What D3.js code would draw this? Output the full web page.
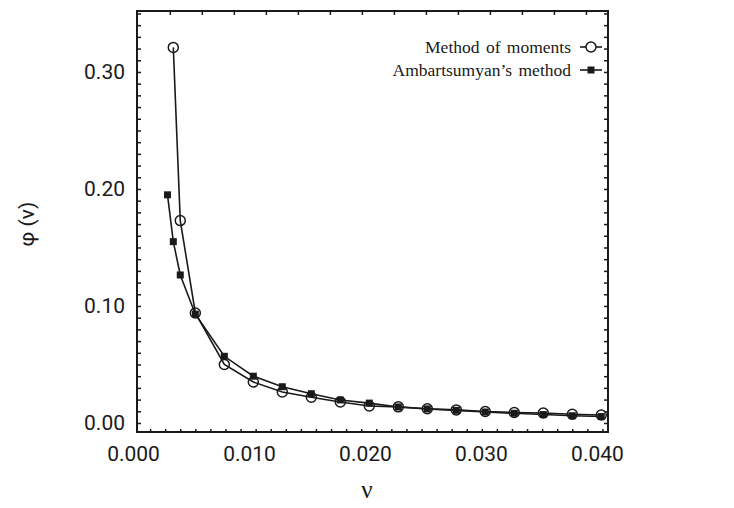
<!DOCTYPE html>
<html>
<head>
<meta charset="utf-8">
<script src="https://cdn.jsdelivr.net/npm/d3@7"></script>
<style>
  body { margin: 0; background: #fff; }
  svg { display: block; }
</style>
</head>
<body>
<div class="chart"></div>
<script>
// data
var momentsX = [0.0033, 0.0039, 0.0052, 0.0077, 0.0102, 0.0127, 0.0152, 0.0177, 0.0202, 0.0227, 0.0252, 0.0277, 0.0302, 0.0327, 0.0352, 0.0377, 0.0402];
var momentsY = [0.321, 0.173, 0.094, 0.050, 0.035, 0.0265, 0.022, 0.018, 0.0145, 0.0138, 0.0122, 0.0112, 0.0098, 0.0090, 0.0085, 0.0075, 0.0068];
var ambX = [0.0028, 0.0033, 0.0039, 0.0052, 0.0077, 0.0102, 0.0127, 0.0152, 0.0177, 0.0202, 0.0227, 0.0252, 0.0277, 0.0302, 0.0327, 0.0352, 0.0377, 0.0402];
var ambY = [0.195, 0.155, 0.1265, 0.093, 0.057, 0.040, 0.031, 0.025, 0.0197, 0.017, 0.0137, 0.012, 0.0108, 0.0094, 0.0083, 0.0072, 0.0062, 0.0055];
var xTicks = [0, 0.01, 0.02, 0.03, 0.04];
var yTicks = [0, 0.1, 0.2, 0.3];
var seriesNames = ["Method of moments", "Ambartsumyan\u2019s method"];

var margin = {top: 11, right: 126, bottom: 76, left: 137};
var W = 734, H = 508;
var width = W - margin.left - margin.right;
var height = H - margin.top - margin.bottom;

var x = d3.scaleLinear().domain([0.00017, 0.04078]).range([0, width]);
var y = d3.scaleLinear().domain([-0.0077, 0.3521]).range([height, 0]);

var svg = d3.select(".chart")
  .append("svg")
    .attr("width", W)
    .attr("height", H)
  .append("g")
    .attr("transform", "translate(" + margin.left + "," + margin.top + ")");

var ink = "#1a1a1a";
var numFont = "Roboto, 'Liberation Sans', sans-serif";
var serif = "'Liberation Serif', 'DejaVu Serif', serif";

// minor ticks (inward)
var leftMinor = d3.range(0, 0.351, 0.01);
svg.append("g")
  .call(d3.axisRight(y).tickValues(leftMinor).tickSize(4).tickFormat(""))
  .call(function(g) { g.select(".domain").remove(); })
  .selectAll("line").attr("stroke", ink).attr("stroke-width", 1.5);
svg.append("g")
  .attr("transform", "translate(" + width + ",0)")
  .call(d3.axisLeft(y).tickValues(leftMinor).tickSize(4).tickFormat(""))
  .call(function(g) { g.select(".domain").remove(); })
  .selectAll("line").attr("stroke", ink).attr("stroke-width", 1.5);

var bottomMinor = d3.range(0.0013, 0.0405, 0.0013);
svg.append("g")
  .attr("transform", "translate(0," + height + ")")
  .call(d3.axisTop(x).tickValues(bottomMinor).tickSize(3).tickFormat(""))
  .call(function(g) { g.select(".domain").remove(); })
  .selectAll("line").attr("stroke", ink).attr("stroke-width", 1.5);

var topMinor = d3.range(0.003, 0.0405, 0.00276);
svg.append("g")
  .call(d3.axisBottom(x).tickValues(topMinor).tickSize(4).tickFormat(""))
  .call(function(g) { g.select(".domain").remove(); })
  .selectAll("line").attr("stroke", ink).attr("stroke-width", 1.5);

// tick labels
svg.append("g")
  .attr("transform", "translate(0," + height + ")")
  .call(d3.axisBottom(x).tickValues(xTicks).tickSize(0).tickPadding(14).tickFormat(d3.format(".3f")))
  .call(function(g) { g.select(".domain").remove(); })
  .selectAll("text")
    .attr("font-family", numFont).attr("font-size", 21).attr("fill", ink)
    .attr("dx", -2);

svg.append("g")
  .call(d3.axisLeft(y).tickValues(yTicks).tickSize(0).tickPadding(12).tickFormat(d3.format(".2f")))
  .call(function(g) { g.select(".domain").remove(); })
  .selectAll("text")
    .attr("font-family", numFont).attr("font-size", 21).attr("fill", ink);

// frame
svg.append("rect")
  .attr("width", width).attr("height", height)
  .attr("fill", "none").attr("stroke", ink).attr("stroke-width", 2);

// axis titles
svg.append("text")
  .attr("x", x(0.02)).attr("y", height + 66)
  .attr("text-anchor", "middle")
  .attr("font-family", serif).attr("font-size", 25).attr("fill", ink)
  .text("\u03bd");

svg.append("text")
  .attr("transform", "translate(" + (27 - margin.left) + "," + (y(0.17)) + ") rotate(-90)")
  .attr("text-anchor", "middle").attr("dy", "0.35em")
  .attr("font-family", numFont).attr("font-size", 21).attr("fill", ink)
  .text("\u03c6 (\u03bd)");

// series
var moments = momentsX.map(function(v, i) { return {x: v, y: momentsY[i]}; });
var amb = ambX.map(function(v, i) { return {x: v, y: ambY[i]}; });

var line = d3.line()
  .x(function(d) { return x(d.x); })
  .y(function(d) { return y(d.y); });

svg.append("path").datum(amb)
  .attr("d", line).attr("fill", "none").attr("stroke", ink).attr("stroke-width", 1.6);
svg.append("path").datum(moments)
  .attr("d", line).attr("fill", "none").attr("stroke", ink).attr("stroke-width", 1.6);

svg.selectAll(".sq").data(amb).enter().append("rect")
  .attr("class", "sq")
  .attr("x", function(d) { return x(d.x) - 3.5; })
  .attr("y", function(d) { return y(d.y) - 3.5; })
  .attr("width", 7).attr("height", 7)
  .attr("fill", ink);

svg.selectAll(".circ").data(moments).enter().append("circle")
  .attr("class", "circ")
  .attr("cx", function(d) { return x(d.x); })
  .attr("cy", function(d) { return y(d.y); })
  .attr("r", 5)
  .attr("fill", "none").attr("stroke", ink).attr("stroke-width", 1.5);

// legend
var legend = svg.append("g").attr("transform", "translate(" + (width - 17) + ",36)");
seriesNames.forEach(function(name, i) {
  var g = legend.append("g").attr("transform", "translate(0," + (i * 23) + ")");
  g.append("text")
    .attr("x", -20).attr("dy", "0.35em")
    .attr("text-anchor", "end")
    .attr("font-family", serif).attr("font-size", 17.5).attr("fill", ink)
    .attr("word-spacing", 2)
    .text(name);
  g.append("line")
    .attr("x1", -11).attr("x2", 11)
    .attr("stroke", ink).attr("stroke-width", 1.6);
  if (i === 0) {
    g.append("circle").attr("r", 5).attr("fill", "#fff").attr("stroke", ink).attr("stroke-width", 1.5);
  } else {
    g.append("rect").attr("x", -3.5).attr("y", -3.5).attr("width", 7).attr("height", 7).attr("fill", ink);
  }
});
</script>
</body>
</html>
